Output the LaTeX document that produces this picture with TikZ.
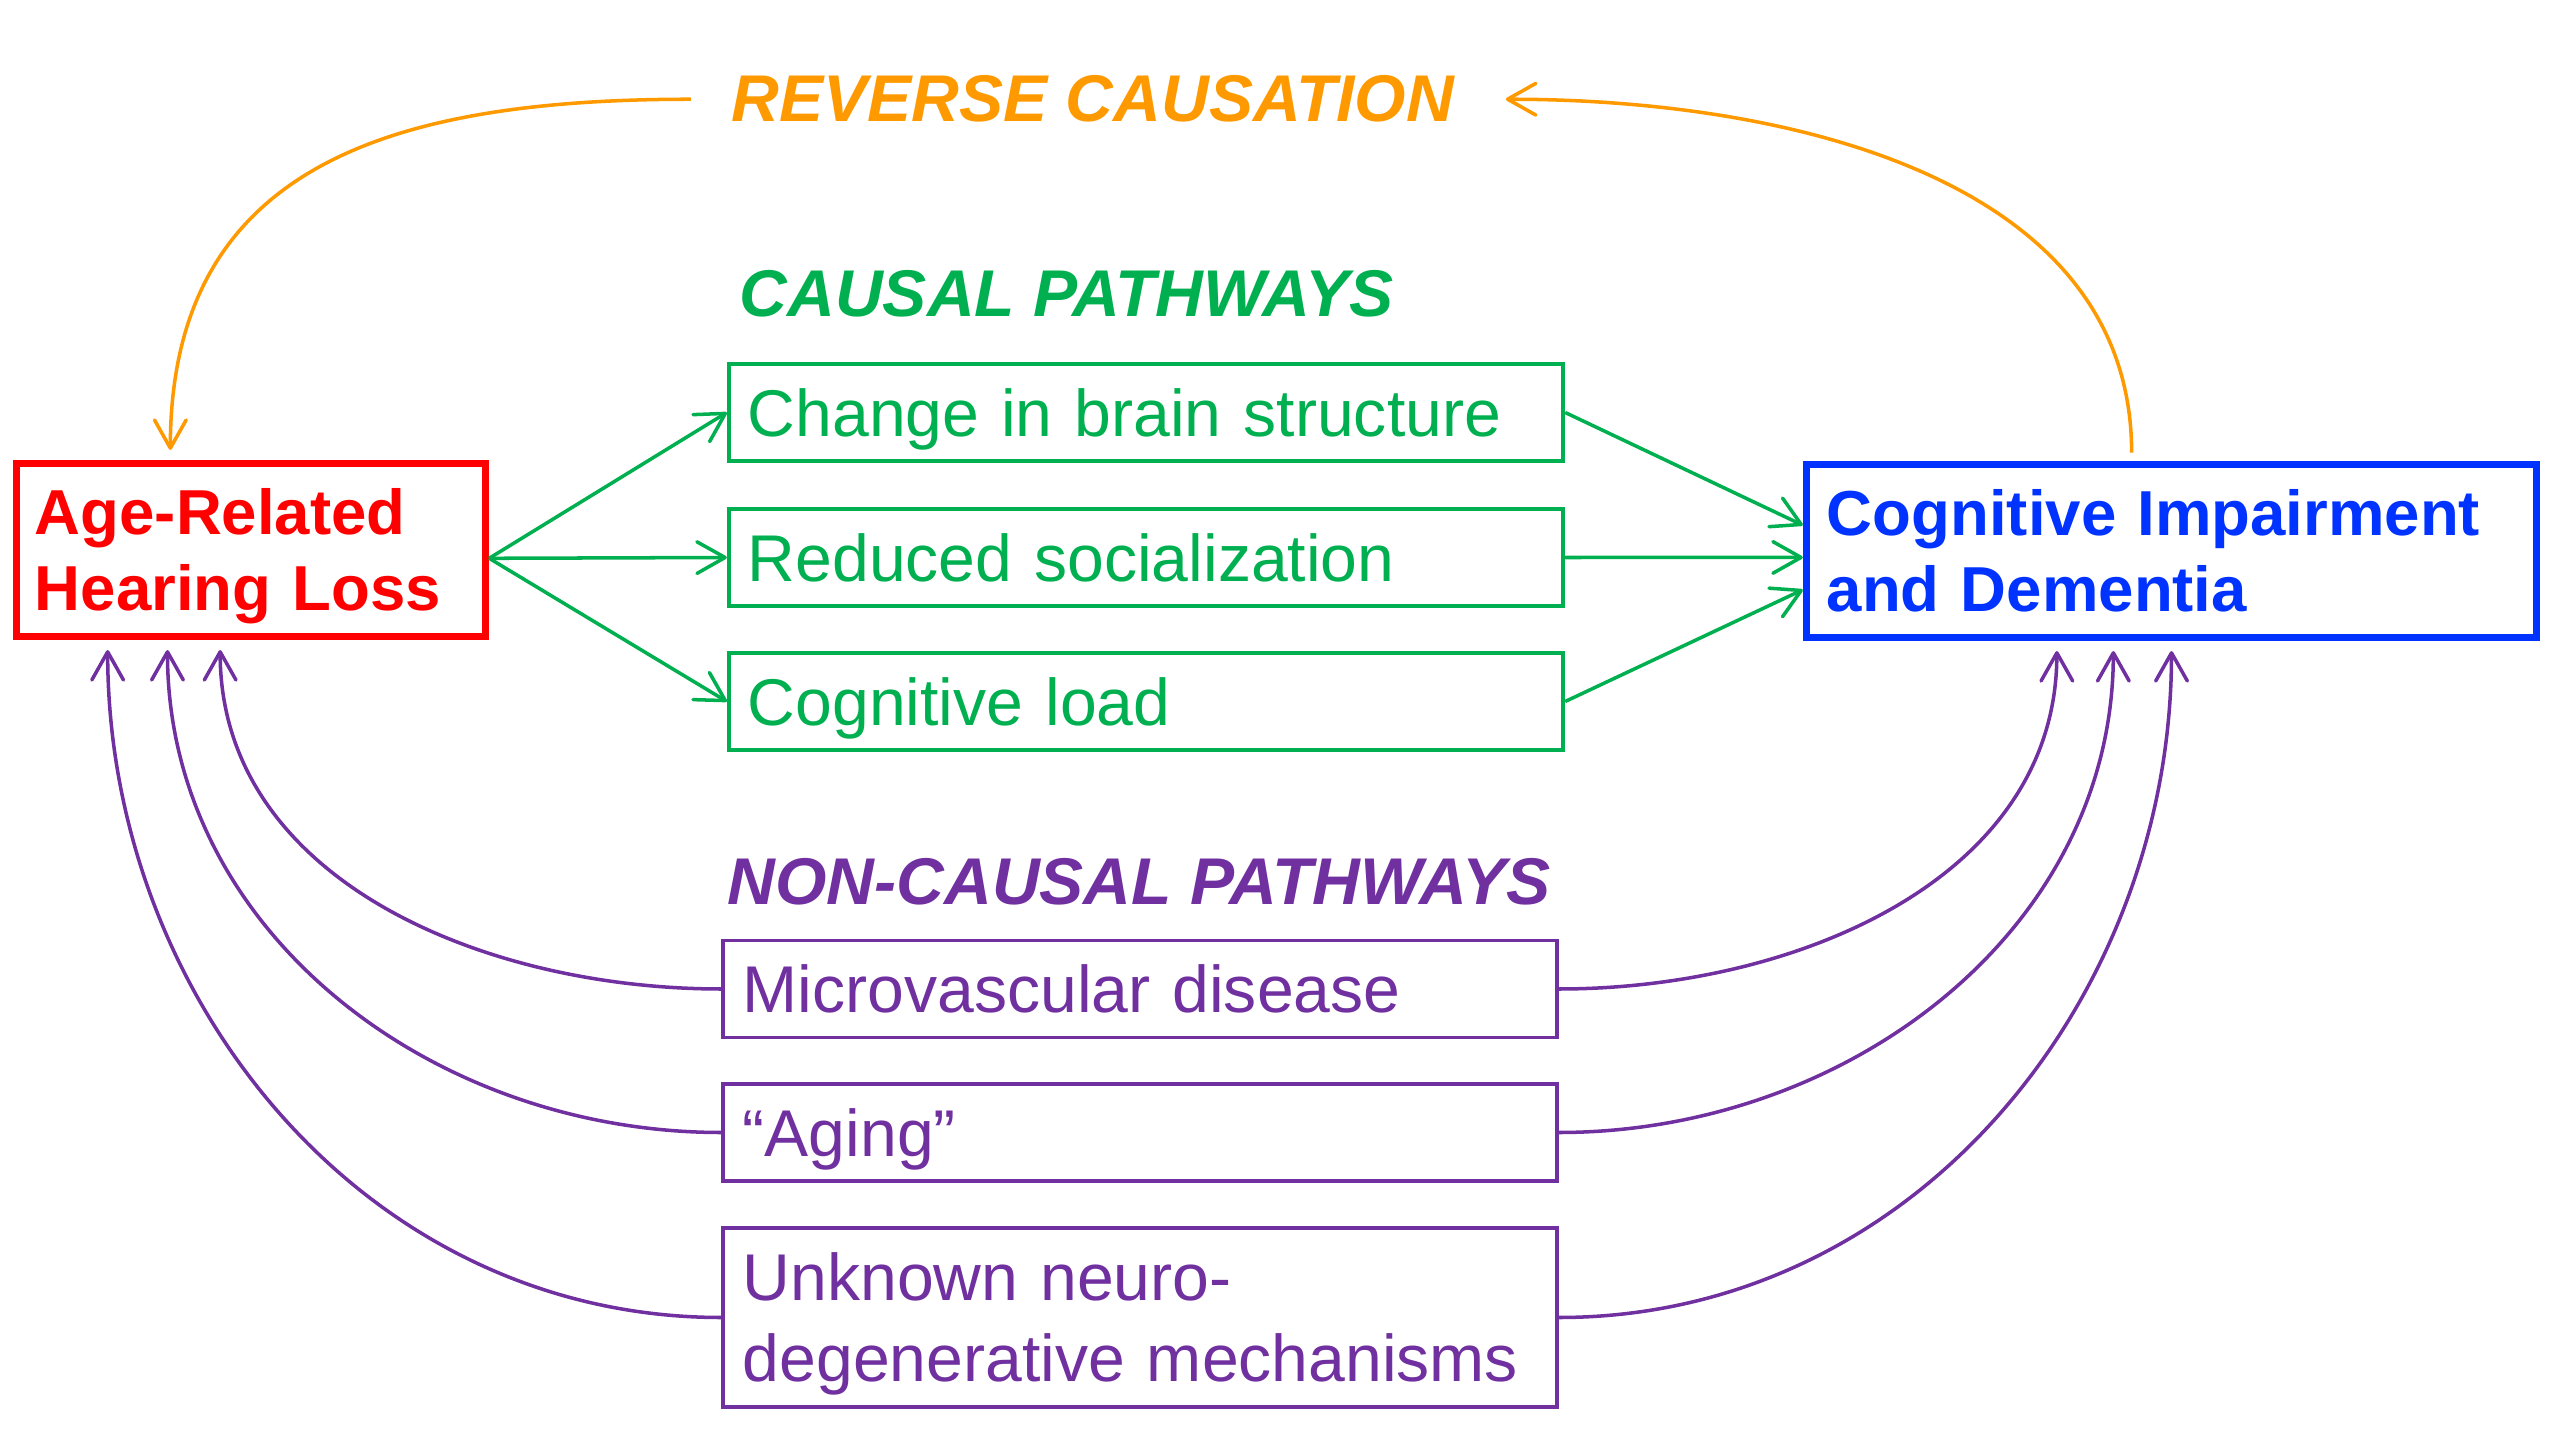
\documentclass[tikz,border=0pt]{standalone}
\usepackage{fontspec}
\setmainfont{Liberation Sans}
\usetikzlibrary{arrows.meta}

\definecolor{hlred}{RGB}{255,0,0}
\definecolor{cdblue}{RGB}{0,51,255}
\definecolor{pathgreen}{RGB}{0,176,80}
\definecolor{npathpurple}{RGB}{112,48,160}
\definecolor{revorange}{RGB}{255,153,0}

\begin{document}
\begin{tikzpicture}[x = 0.01cm, y = -0.01cm,
  endbox/.style = {draw, line width = 2pt, minimum height = 1.72cm, align = left,
    text height = 0.455cm, text depth = 0.76cm, font = \fontsize{18.07}{21.63}\selectfont\bfseries},
  causebox/.style = {draw = pathgreen, text = pathgreen, line width = 1.1pt, text width = 7.96cm,
    inner xsep = 0.19cm, minimum height = 0.97cm, align = left, text height = 0.47cm,
    text depth = 0cm, font = \fontsize{18.8}{23}\selectfont},
  noncausebox/.style = {draw = npathpurple, text = npathpurple, line width = 1.1pt, text width = 7.94cm,
    inner xsep = 0.195cm, minimum height = 0.97cm, align = left, text height = 0.47cm,
    text depth = 0cm, font = \fontsize{18.8}{22.96}\selectfont},
  heading/.style = {anchor = base west, inner sep = 0pt, font = \fontsize{18.8}{23}\selectfont\bfseries\itshape},
  causeline/.style = {draw = pathgreen, line width = 1pt, -{Straight Barb[length = 8pt, width = 9pt, round]}},
  noncauseline/.style = {draw = npathpurple, line width = 1pt, shorten > = 3pt,
    -{Straight Barb[length = 8pt, width = 9pt, round]}},
  revline/.style = {draw = revorange, line width = 1pt, -{Straight Barb[length = 8pt, width = 9pt, round]}}]
\useasboundingbox (0, 0) rectangle (2560, 1440);

\node[heading, text = revorange] (rev) at (731, 122) {REVERSE CAUSATION};
\node[heading, text = pathgreen] (causal) at (739, 317) {CAUSAL PATHWAYS};
\node[heading, text = npathpurple] (noncausal) at (727, 904) {NON-CAUSAL PATHWAYS};

\node[endbox, draw = hlred, text = hlred, text width = 4.32cm, inner xsep = 0.185cm] (hearing) at (251, 550) {Age-Related\\Hearing Loss};
\node[endbox, draw = cdblue, text = cdblue, text width = 6.89cm, inner xsep = 0.205cm] (dementia) at (2171.5, 551) {Cognitive Impairment\\and Dementia};

\node[causebox] (brain) at (1146, 412.5) {Change in brain structure};
\node[causebox] (social) at (1146, 557.5) {Reduced socialization};
\node[causebox] (load) at (1146, 701.5) {Cognitive load};

\node[noncausebox] (micro) at (1140, 989) {Microvascular disease};
\node[noncausebox] (aging) at (1140, 1132.5) {“Aging”};
\node[noncausebox, minimum height = 1.79cm, text depth = 0.81cm] (unknown) at (1140, 1317.5) {Unknown neuro-\\degenerative mechanisms};

\coordinate (revin) at ([xshift = -0.4cm]rev.west);
\coordinate (revout) at ([xshift = 0.51cm]rev.east);

\draw[causeline] (hearing.-2) -- (brain.west);
\draw[causeline] (hearing.-2) -- (social.west);
\draw[causeline] (hearing.-2) -- (load.west);
\draw[causeline] (brain.east) -- (dementia.176);
\draw[causeline] (social.east) -- (dementia.181);
\draw[causeline] (load.east) -- (dementia.186);

\draw[noncauseline] (micro.west) to[out = 180, in = -90] (hearing.251);
\draw[noncauseline] (aging.west) to[out = 180, in = -90] (hearing.227);
\draw[noncauseline] (unknown.west) to[out = 180, in = -90] (hearing.212);
\draw[noncauseline] (micro.east) to[out = 0, in = -90] (dementia.218);
\draw[noncauseline] (aging.east) to[out = 0, in = -90] (dementia.237);
\draw[noncauseline] (unknown.east) to[out = 0, in = -90] (dementia.270);

\draw[revline, shorten > = 3pt] (revin) to[out = 180, in = 90, looseness = 1.2] (hearing.132);
\draw[revline, shorten < = 2.5pt] (dementia.114) to[out = 90, in = 0] (revout);
\end{tikzpicture}
\end{document}
